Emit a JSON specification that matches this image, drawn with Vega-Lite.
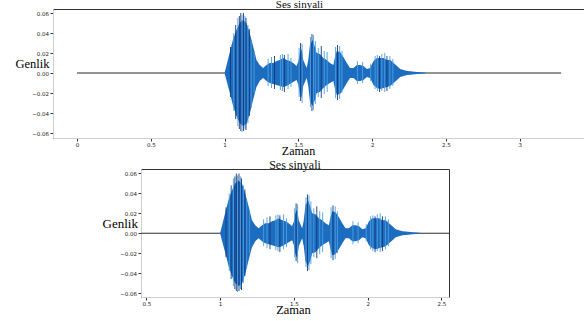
{
  "$schema": "https://vega.github.io/schema/vega-lite/v6.json",
  "padding": {"left": 14, "top": -2, "right": 0, "bottom": 0},
  "autosize": {"type": "pad"},
  "background": "white",
  "config": {"view": {"stroke": "#333", "strokeWidth": 1}, "font": "DejaVu Sans"},
  "datasets": {
    "flat": [{"t": 0, "a": 0}, {"t": 3.28, "a": 0}],
    "env": [
      {"t":1.000,"a":0.000,"a2":0.000},{"t":1.012,"a":0.007,"a2":-0.007},{"t":1.034,"a":0.020,"a2":-0.019},
      {"t":1.056,"a":0.033,"a2":-0.032},{"t":1.080,"a":0.043,"a2":-0.043},{"t":1.102,"a":0.050,"a2":-0.050},
      {"t":1.124,"a":0.053,"a2":-0.053},{"t":1.148,"a":0.050,"a2":-0.051},{"t":1.170,"a":0.040,"a2":-0.041},
      {"t":1.193,"a":0.027,"a2":-0.027},{"t":1.216,"a":0.013,"a2":-0.014},{"t":1.238,"a":0.008,"a2":-0.008},
      {"t":1.261,"a":0.005,"a2":-0.005},{"t":1.284,"a":0.008,"a2":-0.008},{"t":1.306,"a":0.010,"a2":-0.010},
      {"t":1.329,"a":0.010,"a2":-0.011},{"t":1.352,"a":0.012,"a2":-0.012},{"t":1.374,"a":0.013,"a2":-0.013},
      {"t":1.397,"a":0.015,"a2":-0.014},{"t":1.420,"a":0.013,"a2":-0.013},{"t":1.442,"a":0.012,"a2":-0.011},
      {"t":1.465,"a":0.010,"a2":-0.009},{"t":1.488,"a":0.007,"a2":-0.007},{"t":1.500,"a":0.012,"a2":-0.012},
      {"t":1.510,"a":0.020,"a2":-0.021},{"t":1.522,"a":0.024,"a2":-0.025},{"t":1.533,"a":0.013,"a2":-0.013},
      {"t":1.556,"a":0.005,"a2":-0.005},{"t":1.567,"a":0.013,"a2":-0.013},{"t":1.578,"a":0.028,"a2":-0.028},
      {"t":1.597,"a":0.033,"a2":-0.033},{"t":1.612,"a":0.026,"a2":-0.027},{"t":1.624,"a":0.020,"a2":-0.020},
      {"t":1.646,"a":0.019,"a2":-0.019},{"t":1.669,"a":0.015,"a2":-0.015},{"t":1.692,"a":0.013,"a2":-0.012},
      {"t":1.714,"a":0.010,"a2":-0.010},{"t":1.737,"a":0.008,"a2":-0.008},{"t":1.748,"a":0.016,"a2":-0.016},
      {"t":1.760,"a":0.022,"a2":-0.022},{"t":1.782,"a":0.021,"a2":-0.021},{"t":1.805,"a":0.016,"a2":-0.016},
      {"t":1.828,"a":0.010,"a2":-0.010},{"t":1.850,"a":0.005,"a2":-0.005},{"t":1.873,"a":0.005,"a2":-0.005},
      {"t":1.896,"a":0.008,"a2":-0.008},{"t":1.918,"a":0.008,"a2":-0.008},{"t":1.941,"a":0.007,"a2":-0.007},
      {"t":1.964,"a":0.004,"a2":-0.004},{"t":1.986,"a":0.005,"a2":-0.005},{"t":2.009,"a":0.012,"a2":-0.012},
      {"t":2.032,"a":0.015,"a2":-0.015},{"t":2.054,"a":0.015,"a2":-0.016},{"t":2.077,"a":0.015,"a2":-0.015},
      {"t":2.100,"a":0.013,"a2":-0.014},{"t":2.122,"a":0.013,"a2":-0.013},{"t":2.145,"a":0.010,"a2":-0.010},
      {"t":2.168,"a":0.007,"a2":-0.007},{"t":2.190,"a":0.004,"a2":-0.004},{"t":2.213,"a":0.003,"a2":-0.003},
      {"t":2.236,"a":0.002,"a2":-0.002},{"t":2.259,"a":0.0017,"a2":-0.0017},{"t":2.304,"a":0.001,"a2":-0.001},
      {"t":2.349,"a":0.0005,"a2":-0.0005},{"t":2.372,"a":0.0,"a2":0.0}
    ],
    "spk": [
      {"t":1.040,"a":0.026,"a2":-0.024,"tone":"dark"},{"t":1.062,"a":0.040,"a2":-0.038,"tone":"light"},
      {"t":1.075,"a":0.048,"a2":-0.046,"tone":"dark"},{"t":1.090,"a":0.055,"a2":-0.053,"tone":"light"},
      {"t":1.100,"a":0.057,"a2":-0.056,"tone":"dark"},{"t":1.110,"a":0.060,"a2":-0.058,"tone":"dark"},
      {"t":1.118,"a":0.058,"a2":-0.059,"tone":"light"},{"t":1.128,"a":0.060,"a2":-0.058,"tone":"dark"},
      {"t":1.138,"a":0.057,"a2":-0.056,"tone":"light"},{"t":1.145,"a":0.055,"a2":-0.057,"tone":"dark"},
      {"t":1.158,"a":0.048,"a2":-0.050,"tone":"light"},{"t":1.168,"a":0.044,"a2":-0.043,"tone":"dark"},
      {"t":1.180,"a":0.033,"a2":-0.035,"tone":"light"},{"t":1.200,"a":0.022,"a2":-0.020,"tone":"light"},
      {"t":1.295,"a":0.014,"a2":-0.013,"tone":"light"},{"t":1.318,"a":0.016,"a2":-0.015,"tone":"light"},
      {"t":1.338,"a":0.017,"a2":-0.016,"tone":"dark"},{"t":1.378,"a":0.018,"a2":-0.017,"tone":"light"},
      {"t":1.392,"a":0.019,"a2":-0.018,"tone":"light"},{"t":1.405,"a":0.018,"a2":-0.019,"tone":"dark"},
      {"t":1.430,"a":0.019,"a2":-0.016,"tone":"light"},{"t":1.450,"a":0.015,"a2":-0.014,"tone":"light"},
      {"t":1.505,"a":0.025,"a2":-0.024,"tone":"light"},{"t":1.515,"a":0.030,"a2":-0.028,"tone":"dark"},
      {"t":1.525,"a":0.029,"a2":-0.030,"tone":"light"},{"t":1.582,"a":0.036,"a2":-0.034,"tone":"light"},
      {"t":1.592,"a":0.039,"a2":-0.038,"tone":"dark"},{"t":1.602,"a":0.038,"a2":-0.037,"tone":"light"},
      {"t":1.615,"a":0.032,"a2":-0.031,"tone":"light"},{"t":1.635,"a":0.025,"a2":-0.024,"tone":"light"},
      {"t":1.655,"a":0.027,"a2":-0.025,"tone":"dark"},{"t":1.675,"a":0.022,"a2":-0.021,"tone":"light"},
      {"t":1.695,"a":0.021,"a2":-0.019,"tone":"light"},{"t":1.752,"a":0.026,"a2":-0.025,"tone":"light"},
      {"t":1.765,"a":0.028,"a2":-0.027,"tone":"dark"},{"t":1.780,"a":0.027,"a2":-0.026,"tone":"light"},
      {"t":1.795,"a":0.022,"a2":-0.020,"tone":"light"},{"t":1.900,"a":0.012,"a2":-0.011,"tone":"light"},
      {"t":1.935,"a":0.011,"a2":-0.010,"tone":"light"},{"t":1.990,"a":0.009,"a2":-0.008,"tone":"light"},
      {"t":2.020,"a":0.017,"a2":-0.016,"tone":"light"},{"t":2.035,"a":0.018,"a2":-0.018,"tone":"light"},
      {"t":2.050,"a":0.017,"a2":-0.019,"tone":"dark"},{"t":2.065,"a":0.019,"a2":-0.018,"tone":"light"},
      {"t":2.085,"a":0.020,"a2":-0.019,"tone":"light"},{"t":2.100,"a":0.017,"a2":-0.018,"tone":"dark"},
      {"t":2.120,"a":0.017,"a2":-0.016,"tone":"light"},{"t":2.140,"a":0.014,"a2":-0.013,"tone":"light"}
    ]
  },
  "spacing": 1,
  "vconcat": [
    {
      "width": 531,
      "height": 129,
      "title": {"text": "Ses sinyali", "font": "Liberation Serif", "fontSize": 11, "fontWeight": "normal", "color": "#111", "dx": -19, "offset": -1},
      "encoding": {
        "x": {"field": "t", "type": "quantitative",
          "scale": {"domain": [-0.1625, 3.435], "nice": false, "zero": false},
          "axis": {"title": "Zaman", "titleFont": "Liberation Serif", "titleFontSize": 12, "titleFontWeight": "normal", "titleColor": "#000",
            "titleX": 245, "titleY": 12, "titleAlign": "center", "titleBaseline": "middle",
            "values": [0, 0.5, 1, 1.5, 2, 2.5, 3], "labelExpr": "'' + datum.value",
            "labelFontSize": 5.5, "labelColor": "#222", "tickSize": 3, "tickColor": "#333", "labelPadding": 1,
            "grid": false, "domainColor": "#cfcfcf"}},
        "y": {"field": "a", "type": "quantitative",
          "scale": {"domain": [-0.065, 0.064], "nice": false, "zero": false},
          "axis": {"title": "Genlik", "titleAngle": 0, "titleFont": "Liberation Serif", "titleFontSize": 12.5, "titleFontWeight": "normal", "titleColor": "#000",
            "titleX": -38, "titleY": 54, "titleAlign": "left", "titleBaseline": "middle",
            "values": [-0.06, -0.04, -0.02, 0, 0.02, 0.04, 0.06], "format": ".2f",
            "labelFontSize": 5.5, "labelColor": "#222", "tickSize": 3, "tickColor": "#333", "labelPadding": 1.5,
            "grid": false, "domainColor": "#cfcfcf"}}
      },
      "layer": [
        {"data": {"name": "flat"}, "mark": {"type": "line", "color": "#2b2b2b", "strokeWidth": 1}},
        {"data": {"name": "env"}, "mark": {"type": "area", "color": "#1c6cc0", "opacity": 1}, "encoding": {"y2": {"field": "a2"}}},
        {"data": {"name": "spk"}, "mark": {"type": "rule", "strokeWidth": 0.9},
          "encoding": {"y2": {"field": "a2"},
            "color": {"field": "tone", "type": "nominal", "scale": {"domain": ["dark", "light"], "range": ["#15397a", "#4b9ee0"]}, "legend": null}}}
      ]
    },
    {
      "spacing": 0,
      "hconcat": [
        {"width": 48, "height": 10, "data": {"values": [{}]}, "mark": {"type": "text", "text": ""}, "view": {"stroke": null}},
        {
          "width": 308,
          "height": 128,
          "title": {"text": "Ses sinyali", "font": "Liberation Serif", "fontSize": 12, "fontWeight": "normal", "color": "#111", "offset": -3},
          "encoding": {
            "x": {"field": "t", "type": "quantitative",
              "scale": {"domain": [0.464, 2.551], "nice": false, "zero": false},
              "axis": {"title": "Zaman", "titleFont": "Liberation Serif", "titleFontSize": 12.5, "titleFontWeight": "normal", "titleColor": "#000",
                "titleX": 152, "titleY": 12, "titleAlign": "center", "titleBaseline": "middle",
                "values": [0.5, 1, 1.5, 2, 2.5], "labelExpr": "'' + datum.value",
                "labelFontSize": 5.5, "labelColor": "#222", "tickSize": 3, "tickColor": "#333", "labelPadding": 1,
                "grid": false, "domainColor": "#cfcfcf"}},
            "y": {"field": "a", "type": "quantitative",
              "scale": {"domain": [-0.064, 0.0645], "nice": false, "zero": false},
              "axis": {"title": "Genlik", "titleAngle": 0, "titleFont": "Liberation Serif", "titleFontSize": 13, "titleFontWeight": "normal", "titleColor": "#000",
                "titleX": -39, "titleY": 54, "titleAlign": "left", "titleBaseline": "middle",
                "values": [-0.06, -0.04, -0.02, 0, 0.02, 0.04, 0.06], "format": ".2f",
                "labelFontSize": 5.5, "labelColor": "#222", "tickSize": 3, "tickColor": "#333", "labelPadding": 1.5,
                "grid": false, "domainColor": "#cfcfcf"}}
          },
          "layer": [
            {"data": {"name": "flat"}, "mark": {"type": "line", "color": "#2b2b2b", "strokeWidth": 1, "clip": true}},
            {"data": {"name": "env"}, "mark": {"type": "area", "color": "#1c6cc0", "opacity": 1, "clip": true}, "encoding": {"y2": {"field": "a2"}}},
            {"data": {"name": "spk"}, "mark": {"type": "rule", "strokeWidth": 0.9, "clip": true},
              "encoding": {"y2": {"field": "a2"},
                "color": {"field": "tone", "type": "nominal", "scale": {"domain": ["dark", "light"], "range": ["#15397a", "#4b9ee0"]}, "legend": null}}}
          ]
        }
      ]
    }
  ]
}
